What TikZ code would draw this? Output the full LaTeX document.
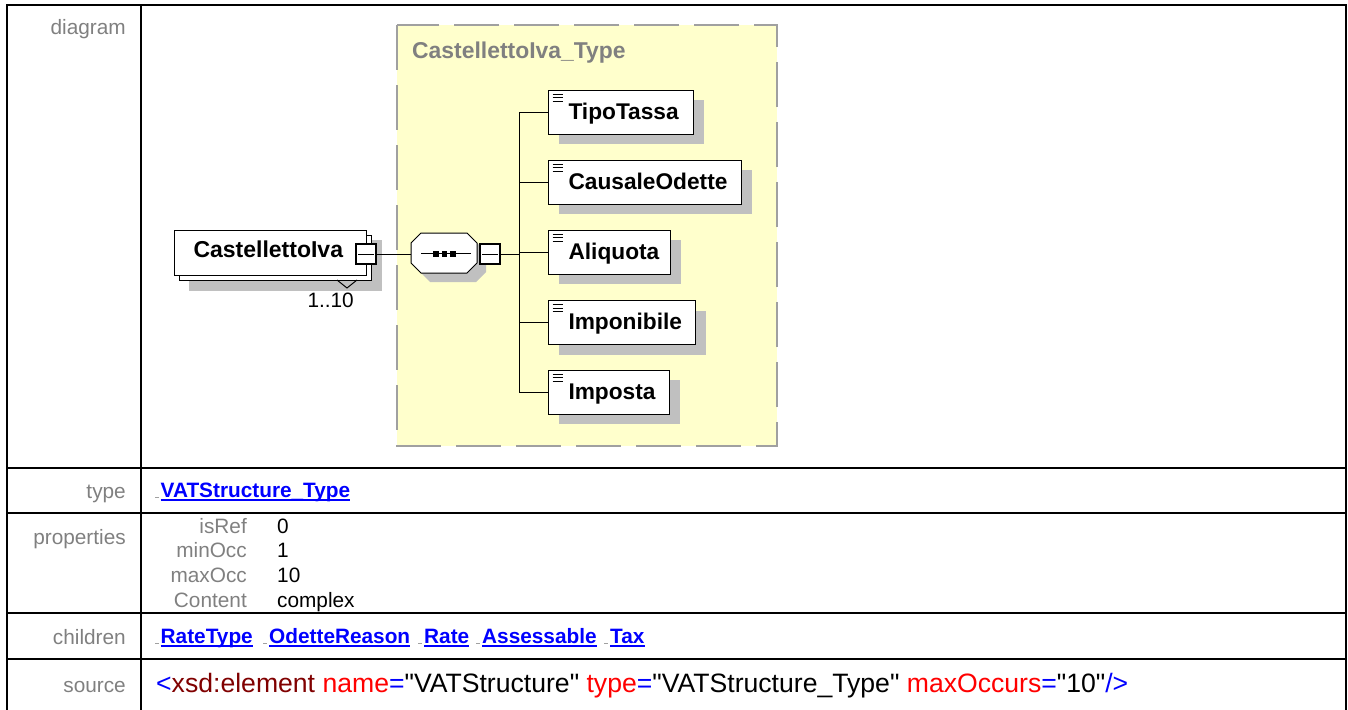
\documentclass[tikz,border=0pt]{standalone}
\usepackage{fontspec}
\setmainfont{Liberation Sans}
\usetikzlibrary{shadows}
\definecolor{shd}{HTML}{C0C0C0}
\definecolor{ylw}{HTML}{FFFFCC}
\definecolor{dashgray}{HTML}{A0A0A0}
\definecolor{labelgray}{HTML}{808080}
\definecolor{linkblue}{HTML}{0000FF}
\definecolor{darkred}{HTML}{800000}
\definecolor{srcred}{HTML}{FF0000}
\definecolor{markgray}{HTML}{A0A0A0}
\newcommand{\lnk}[1]{\setbox0\hbox{\bfseries #1}\rlap{\rule[-3.5pt]{\wd0}{1.8pt}}\box0}
\newcommand{\elbox}[2]{\hbox to #1pt{\hspace{20pt}#2\hfil}}
\newcommand{\q}{\textquotedbl}
\begin{document}
\begin{tikzpicture}[x=1pt,y=-1pt,
  lbl/.style={anchor=base east, inner sep=0pt, text=labelgray, font=\fontsize{20.8}{24}\selectfont},
  val/.style={anchor=base west, inner sep=0pt, font=\fontsize{20.8}{24}\selectfont},
  link/.style={anchor=base west, inner sep=0pt, text=linkblue, font=\fontsize{20.8}{24}\selectfont},
  elem/.style={draw=black, line width=1pt, fill=white, anchor=west, minimum height=44pt,
    inner xsep=0pt, inner ysep=0pt, text height=17pt, text depth=3pt,
    font=\fontsize{22.7}{26}\selectfont\bfseries,
    drop shadow={shadow xshift=10pt, shadow yshift=-10pt, fill=shd, opacity=1}},
  sq/.style={draw=black, line width=2pt, fill=white, minimum size=20pt, inner sep=0pt},
  conn/.style={draw=black, line width=1pt},
  tbl/.style={draw=black, line width=2pt},
  gmark/.style={draw=markgray, line width=1pt}
]
\useasboundingbox (0,0) rectangle (1348,709);
% table
\draw[tbl] (7,720) -- (7,5) -- (1346,5) -- (1346,720);
\draw[tbl] (141,5) -- (141,720);
\draw[tbl] (7,468) -- (1346,468);
\draw[tbl] (7,513) -- (1346,513);
\draw[tbl] (7,613) -- (1346,613);
\draw[tbl] (7,659) -- (1346,659);
% labels
\node[lbl] (ldiagram) at (126,35) {diagram};
\node[lbl] (ltype) at (126,498) {type};
\node[lbl] (lprops) at (126,544) {properties};
\node[lbl] (lchildren) at (126,644) {children};
\node[lbl] (lsource) at (126,692) {source};
% yellow type box
\draw[fill=ylw, draw=dashgray, line width=2pt, dash pattern=on 45pt off 15pt] (397,25) rectangle (777,446);
\node[anchor=base west, inner sep=0pt, text=labelgray, font=\fontsize{22.9}{26}\selectfont\bfseries] (ttl) at (412,59) {CastellettoIva\_Type};
% main element with stack and shadow
\fill[shd] (189,240) rectangle (382,291);
\draw[line width=1pt, fill=white] (179,235) rectangle (371,280);
\node[draw=black, line width=1pt, fill=white, anchor=west, minimum height=45pt, inner xsep=0pt, inner ysep=0pt,
  text height=15pt, text depth=5pt, font=\fontsize{23}{26}\selectfont\bfseries] (el) at (174,252.5) {\elbox{192}{\hspace{-1pt}CastellettoIva}};
\draw[line width=1pt] (337,280) -- (347,288) -- (357,280);
\node[anchor=base east, inner sep=0pt, font=\fontsize{20.8}{24}\selectfont] (occ) at (354,307) {1..10};
\node[sq] (elsq) at (366,254) {};
\draw[line width=1pt] (358,254) -- (374,254);
% sequence compositor (octagon)
\fill[shd] (430,242) -- (476,242) -- (486,252) -- (486,272) -- (476,282) -- (430,282) -- (420,272) -- (420,252) -- cycle;
\draw[line width=1pt, fill=white] (421,233) -- (467,233) -- (477,243) -- (477,263) -- (467,273) -- (421,273) -- (411,263) -- (411,243) -- cycle;
\node[minimum width=66pt, minimum height=40pt, inner sep=0pt] (seq) at (444,253) {};
\draw[line width=1pt] (421,253.5) -- (471,253.5);
\fill (433,251) rectangle (438.5,256.5);
\fill (441.5,251) rectangle (447,256.5);
\fill (450,251) rectangle (455.5,256.5);
\node[sq] (seqsq) at (490,254) {};
\draw[line width=1pt] (482,254) -- (498,254);
\draw[conn] (elsq.east) -- (seq.west |- elsq.east);
\coordinate (bus) at (519,254);
\draw[conn] (seqsq.east) -- (bus);
% children
\node[elem] (c1) at (548,112) {\elbox{145}{TipoTassa}};
\node[elem] (c2) at (548,182) {\elbox{193}{CausaleOdette}};
\node[elem] (c3) at (548,252) {\elbox{122}{Aliquota}};
\node[elem] (c4) at (548,322.5) {\elbox{147}{Imponibile}};
\node[elem] (c5) at (548,392) {\elbox{121}{Imposta}};
\foreach \n in {c1,c2,c3,c4,c5} {
  \draw[line width=0.9pt, shift={(\n.north west)}] (4.5,4.5) -- (14.5,4.5) (4.5,8) -- (14.5,8) (4.5,11.5) -- (14.5,11.5);
}
\draw[conn] (c1.west) -- (c1.west -| bus) -- (c5.west -| bus) -- (c5.west);
\draw[conn] (c2.west) -- (c2.west -| bus);
\draw[conn] (c3.west) -- (c3.west -| bus);
\draw[conn] (c4.west) -- (c4.west -| bus);
% type row
\draw[gmark] (155,497.5) -- (159,497.5);
\node[link] (typ) at (160.5,497) {\lnk{VATStructure\_Type}};
% properties
\node[lbl] (p1) at (247,533) {isRef};
\node[lbl] (p2) at (247,557) {minOcc};
\node[lbl] (p3) at (247,582) {maxOcc};
\node[lbl] (p4) at (247,607) {Content};
\node[val] (v1) at (277,533) {0};
\node[val] (v2) at (277,557) {1};
\node[val] (v3) at (277,582) {10};
\node[val] (v4) at (277,607) {complex};
% children row
\draw[gmark] (155,643.5) -- (159,643.5);
\node[link] (k1) at (160.5,643) {\lnk{RateType}};
\draw[gmark] (263,643.5) -- (267,643.5);
\node[link] (k2) at (269,643) {\lnk{OdetteReason}};
\draw[gmark] (418,643.5) -- (422,643.5);
\node[link] (k3) at (424,643) {\lnk{Rate}};
\draw[gmark] (476,643.5) -- (480,643.5);
\node[link] (k4) at (482,643) {\lnk{Assessable}};
\draw[gmark] (604,643.5) -- (608,643.5);
\node[link] (k5) at (610,643) {\lnk{Tax}};
% source row
\node[anchor=base west, inner sep=0pt, font=\fontsize{26.6}{30}\selectfont] (src) at (156,692)
  {\textcolor{linkblue}{<}\textcolor{darkred}{xsd:element} \textcolor{srcred}{name}\textcolor{linkblue}{=}\q VATStructure\q{} \textcolor{srcred}{type}\textcolor{linkblue}{=}\q VATStructure\_Type\q{} \textcolor{srcred}{maxOccurs}\textcolor{linkblue}{=}\q 10\q\textcolor{linkblue}{/>}};
\end{tikzpicture}
\end{document}
